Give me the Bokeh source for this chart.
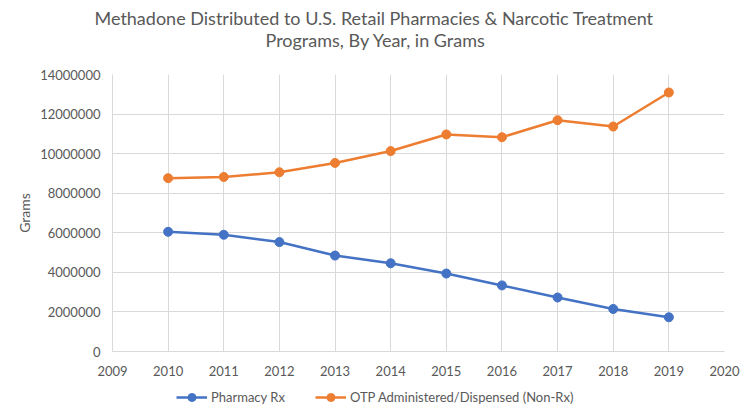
from bokeh.plotting import figure
from bokeh.layouts import column
from bokeh.models import (FixedTicker, BasicTickFormatter, Title, Legend, LegendItem, Range1d)
from bokeh.embed import file_html
from bokeh.resources import INLINE

years = [2010, 2011, 2012, 2013, 2014, 2015, 2016, 2017, 2018, 2019]
pharmacy_rx = [6050000, 5900000, 5530000, 4850000, 4460000, 3940000, 3340000, 2730000, 2150000, 1730000]
otp = [8760000, 8820000, 9060000, 9530000, 10130000, 10970000, 10830000, 11690000, 11370000, 13090000]
x_ticks = list(range(2009, 2021))
y_ticks = list(range(0, 14000001, 2000000))
title_lines = ["Methadone Distributed to U.S. Retail Pharmacies & Narcotic Treatment",
               "Programs, By Year, in Grams"]
series_names = ["Pharmacy Rx", "OTP Administered/Dispensed (Non-Rx)"]

FONT = "Lato"
GREY = "#595959"
GRID = "#d9d9d9"
blue = "#4472C4"
orange = "#ED7D31"

W = 742
p = figure(width=W, height=387, output_backend="svg", toolbar_location=None,
           x_range=Range1d(2009, 2020), y_range=Range1d(0, 14000000),
           min_border_left=112, min_border_right=18, min_border_top=74, min_border_bottom=36)
p.outline_line_color = None

# title: spacer closest to the frame, then line 2, then line 1
p.add_layout(Title(text=" ", text_font_size="10px", standoff=11), "above")
p.add_layout(Title(text=title_lines[1], align="left", offset=153, text_font=FONT,
                   text_font_size="18px", text_font_style="normal", text_color=GREY,
                   standoff=0), "above")
p.add_layout(Title(text=title_lines[0], align="left", offset=-18, text_font=FONT,
                   text_font_size="18px", text_font_style="normal", text_color=GREY,
                   standoff=-4), "above")

p.xaxis.ticker = FixedTicker(ticks=x_ticks)
p.yaxis.ticker = FixedTicker(ticks=y_ticks)
p.yaxis.formatter = BasicTickFormatter(use_scientific=False)
for ax in [p.xaxis[0], p.yaxis[0]]:
    ax.axis_line_color = GRID
    ax.major_tick_line_color = None
    ax.minor_tick_line_color = None
    ax.major_label_text_font = FONT
    ax.major_label_text_font_size = "13px"
    ax.major_label_text_color = GREY
p.xaxis.major_label_standoff = 8
p.yaxis.major_label_standoff = 6
p.yaxis.axis_label = "Grams"
p.yaxis.axis_label_text_font = FONT
p.yaxis.axis_label_text_font_size = "14px"
p.yaxis.axis_label_text_font_style = "normal"
p.yaxis.axis_label_text_color = GREY
p.yaxis.axis_label_standoff = 4

p.xgrid.grid_line_color = GRID
p.ygrid.grid_line_color = GRID

p.line(years, pharmacy_rx, line_color=blue, line_width=2.5)
p.scatter(years, pharmacy_rx, size=9, fill_color=blue, line_color=blue)
p.line(years, otp, line_color=orange, line_width=2.5)
p.scatter(years, otp, size=9, fill_color=orange, line_color=orange)

# legend strip below the chart (its series lie outside this strip's ranges,
# so only their legend swatches are seen)
pl = figure(width=W, height=20, output_backend="svg", toolbar_location=None,
            x_axis_type=None, y_axis_type=None, x_range=Range1d(0, 1), y_range=Range1d(0, 1),
            min_border_left=112, min_border_right=18, min_border_top=0, min_border_bottom=0)
pl.outline_line_color = None
pl.xgrid.visible = False
pl.ygrid.visible = False
r1l = pl.line(years, pharmacy_rx, line_color=blue, line_width=2.5)
r1c = pl.scatter(years, pharmacy_rx, size=9, fill_color=blue, line_color=blue)
r2l = pl.line(years, otp, line_color=orange, line_width=2.5)
r2c = pl.scatter(years, otp, size=9, fill_color=orange, line_color=orange)

legend = Legend(items=[LegendItem(label=series_names[0], renderers=[r1l, r1c]),
                       LegendItem(label=series_names[1], renderers=[r2l, r2c])],
                orientation="horizontal", location=(64, 0),
                label_text_font=FONT, label_text_font_size="13px", label_text_color=GREY,
                border_line_color=None, background_fill_alpha=0,
                glyph_width=31, glyph_height=20, label_height=14,
                label_standoff=4, spacing=30, padding=0, margin=0)
pl.add_layout(legend, "center")

layout = column(p, pl, spacing=0)
open("out.html", "w").write(file_html(layout, INLINE))
